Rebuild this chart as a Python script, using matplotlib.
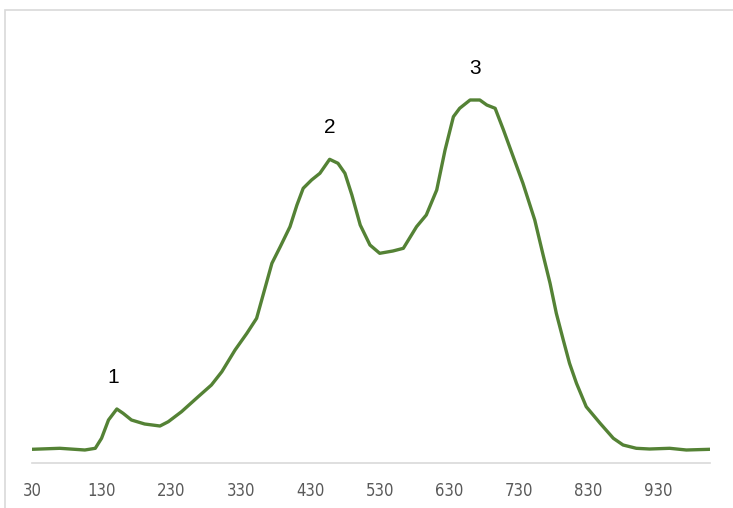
import numpy as np
import matplotlib.pyplot as plt
from matplotlib.patches import Rectangle

# spectrum (x = wavelength-like axis, y = arbitrary units)
x_vals = [30, 70, 106, 121, 130, 140, 152, 161, 173, 192, 214, 226, 245, 269,
          288, 303, 322, 339, 353, 363, 375, 387, 401, 411, 420, 432, 444, 458,
          470, 480, 490, 502, 516, 530, 549, 564, 583, 597, 612, 624, 636, 645,
          660, 674, 684, 696, 708, 722, 736, 753, 765, 775, 784, 794, 803, 813,
          827, 847, 866, 880, 899, 918, 947, 971, 1005]
y_vals = [13.4, 14.4, 12.7, 14.4, 24.4, 42.7, 53.7, 49.4, 42.7, 38.7, 36.7, 41, 51, 66,
          77.7, 91, 112.7, 129.4, 144.4, 169.4, 199.4, 216, 236, 257.7, 274.4, 282.7, 289.4, 303.4,
          299.4, 289.4, 267.7, 237.7, 217.7, 209.4, 211.7, 214.4, 236, 247.7, 272.7, 312.7, 346, 354.4,
          362.7, 362.7, 357.7, 354.4, 332.7, 306, 279.4, 242.7, 207.7, 179.4, 149.4, 122.7, 99.4, 79.4,
          56, 39.4, 24.4, 17.7, 14.4, 13.7, 14.4, 12.7, 13.4]

tick_vals = [30, 130, 230, 330, 430, 530, 630, 730, 830, 930]
peak_names = ["1", "2", "3"]
peak_x = [147, 458, 667]
peak_y = [53.7, 303.4, 362.7]


def main():
    fig = plt.figure(figsize=(7.33, 5.08), dpi=100)
    # light grey chart border, runs off the right and bottom edges
    fig.patches.append(Rectangle((5 / 733, -0.1), 1.2, 1.1 - 10 / 508,
                                 transform=fig.transFigure, fill=False,
                                 edgecolor="#d9d9d9", linewidth=1.2))

    ax = fig.add_axes([32 / 733, (508 - 462.7) / 508, 678 / 733, 432.7 / 508])
    ax.plot(x_vals, y_vals, color="#548235", linewidth=2.4,
            solid_capstyle="round", solid_joinstyle="round")

    for name, px, py in zip(peak_names, peak_x, peak_y):
        ax.annotate(name, (px, py), xytext=(0, 23), textcoords="offset points",
                    ha="center", va="center", fontsize=15,
                    family=["Liberation Sans", "DejaVu Sans"])

    ax.set_xlim(30, 1005)
    ax.set_ylim(0, 432.7)
    ax.set_xticks(tick_vals)
    ax.set_xticklabels([str(t) for t in tick_vals],
                       family=["Liberation Sans Narrow", "DejaVu Sans"],
                       fontstretch="condensed",
                       fontsize=12, color="#595959")
    ax.tick_params(axis="x", length=0, pad=14)
    ax.set_yticks([])
    for side in ["top", "right", "left"]:
        ax.spines[side].set_visible(False)
    ax.spines["bottom"].set_color("#d9d9d9")
    ax.spines["bottom"].set_linewidth(1.2)
    ax.patch.set_alpha(0)

    fig.savefig("out.png", dpi=100)


if __name__ == "__main__":
    main()
